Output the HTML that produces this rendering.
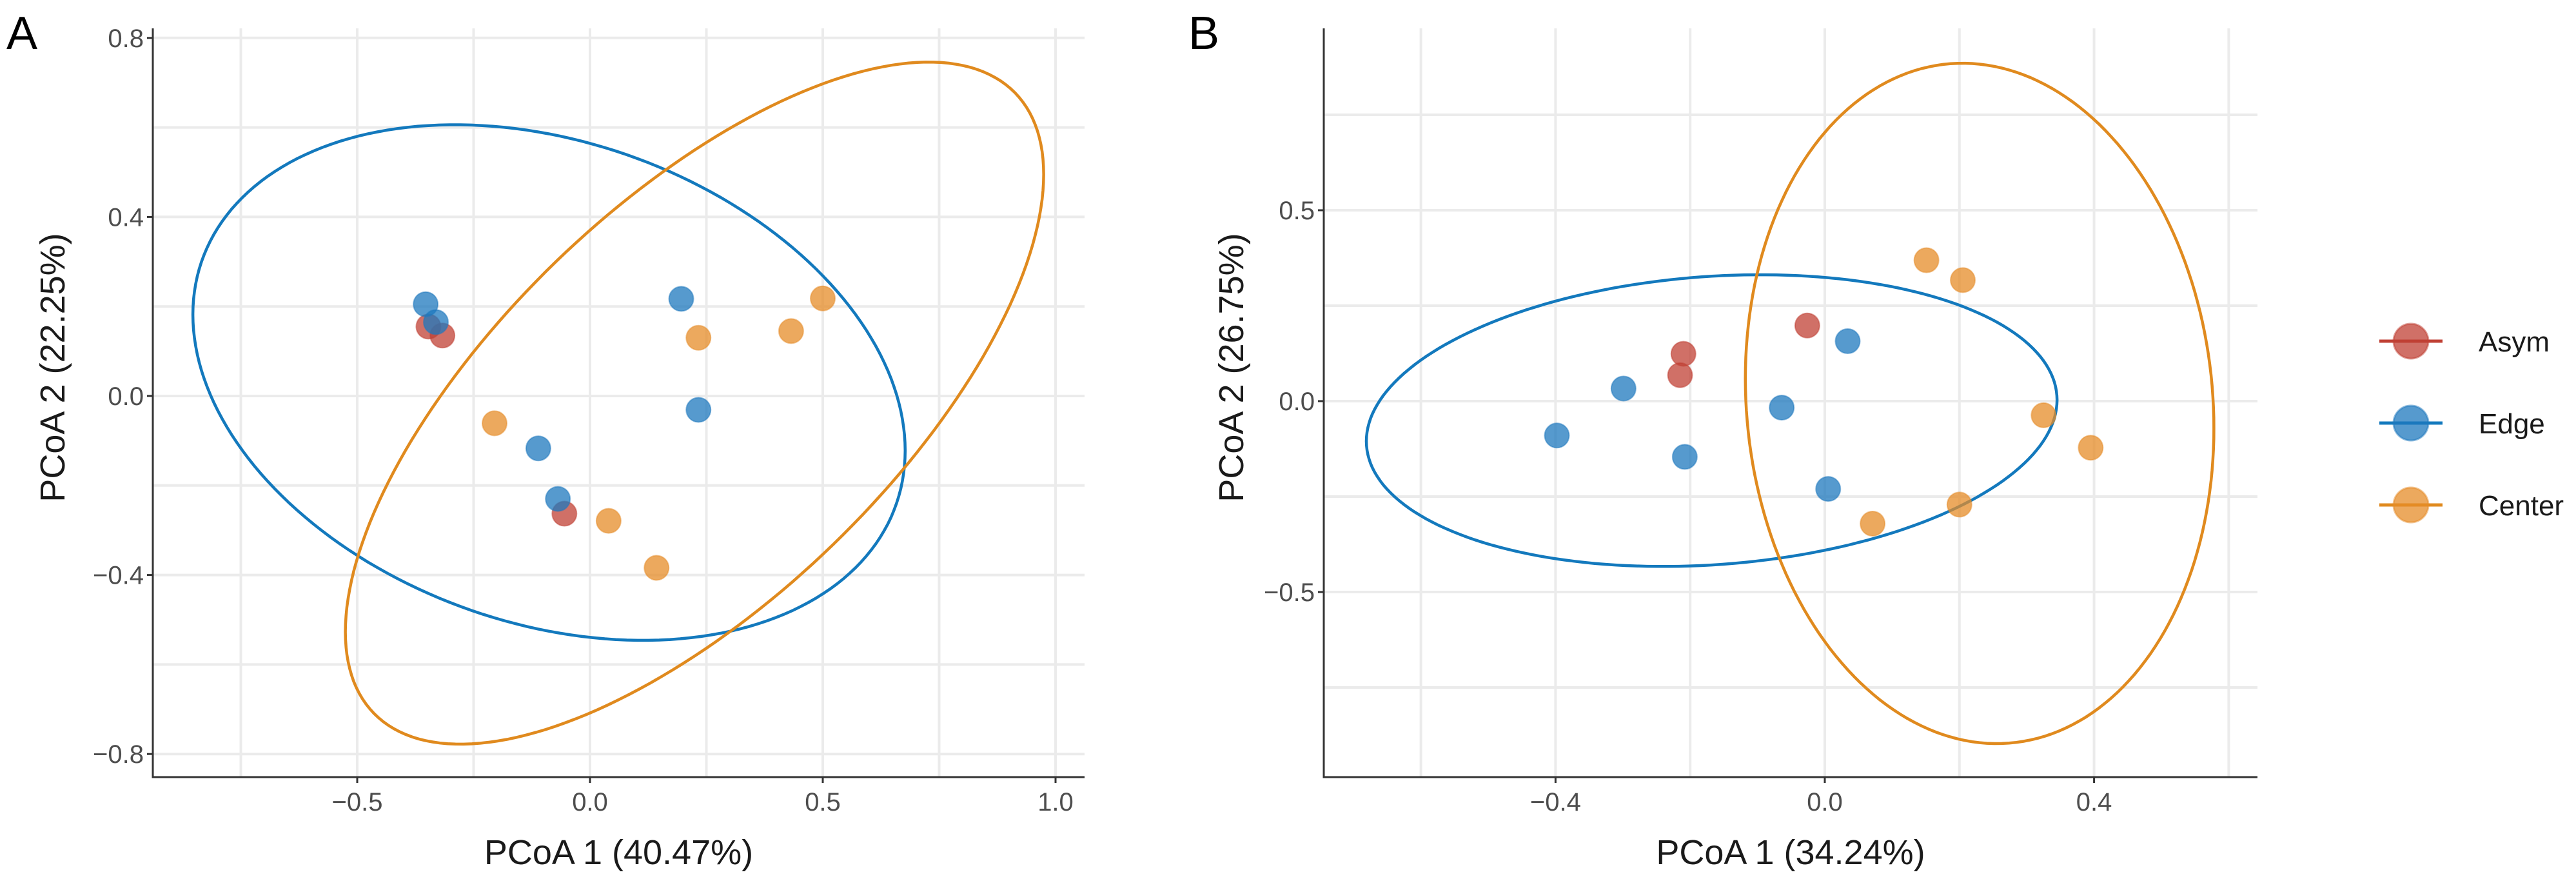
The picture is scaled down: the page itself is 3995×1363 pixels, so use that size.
<!DOCTYPE html>
<html><head><meta charset="utf-8">
<style>
html,body{margin:0;padding:0;background:#fff;}
svg{display:block;font-family:"Liberation Sans",Arial,sans-serif;}
</style></head>
<body>
<svg id="fig" width="3995" height="1363" viewBox="0 0 3995 1363" xmlns="http://www.w3.org/2000/svg">
<g id="panelA"></g>
<g id="panelB"></g>
<g id="legend"></g>
</svg>
<script>
// ---- Panel A data ----
const aAsymX = [-0.347, -0.317, -0.055];
const aAsymY = [0.155, 0.135, -0.263];
const aEdgeX = [-0.353, -0.331, 0.196, 0.233, -0.111, -0.069];
const aEdgeY = [0.205, 0.165, 0.217, -0.031, -0.117, -0.230];
const aCenterX = [-0.205, 0.233, 0.432, 0.500, 0.040, 0.143];
const aCenterY = [-0.061, 0.130, 0.145, 0.218, -0.279, -0.384];
// ellipse params: [cx, cy, halfWidth, halfHeight, y at rightmost point]
const aEdgeEllipse = [-0.088, 0.030, 0.765, 0.576, -0.122];
const aCenterEllipse = [0.2245, -0.016, 0.750, 0.762, 0.495];
const aXTicks = [-0.5, 0.0, 0.5, 1.0];
const aXTickLabels = ["-0.5", "0.0", "0.5", "1.0"];
const aXMinor = [-0.75, -0.25, 0.25, 0.75];
const aYTicks = [0.8, 0.4, 0.0, -0.4, -0.8];
const aYTickLabels = ["0.8", "0.4", "0.0", "-0.4", "-0.8"];
const aYMinor = [0.6, 0.2, -0.2, -0.6];

// ---- Panel B data ----
const bAsymX = [-0.026, -0.210, -0.215];
const bAsymY = [0.198, 0.124, 0.068];
const bEdgeX = [0.034, -0.299, -0.398, -0.208, -0.064, 0.005];
const bEdgeY = [0.157, 0.033, -0.090, -0.146, -0.017, -0.230];
const bCenterX = [0.151, 0.205, 0.325, 0.395, 0.200, 0.071];
const bCenterY = [0.369, 0.317, -0.037, -0.122, -0.271, -0.321];
const bEdgeEllipse = [-0.168, -0.051, 0.513, 0.382, 0.003];
const bCenterEllipse = [0.230, -0.006, 0.348, 0.891, -0.071];
const bXTicks = [-0.4, 0.0, 0.4];
const bXTickLabels = ["-0.4", "0.0", "0.4"];
const bXMinor = [-0.6, -0.2, 0.2, 0.6];
const bYTicks = [0.5, 0.0, -0.5];
const bYTickLabels = ["0.5", "0.0", "-0.5"];
const bYMinor = [0.75, 0.25, -0.25, -0.75];

const legendLabels = ["Asym", "Edge", "Center"];

const COL = {Asym:"rgb(192,64,52)", Edge:"rgb(30,120,190)", Center:"rgb(230,140,40)"};
const ELL = {Edge:"#1379bd", Center:"#e08a1e"};
const NS = "http://www.w3.org/2000/svg";
function mk(tag, attrs, parent){const e=document.createElementNS(NS,tag);for(const k in attrs)e.setAttribute(k,attrs[k]);parent.appendChild(e);return e;}

function drawPanel(g, cfg){
  const sx = v => cfg.x0 + v*cfg.ux;
  const sy = v => cfg.y0 - v*cfg.uy;
  // grid
  cfg.xMinor.concat(cfg.xTicks).forEach(v=>{
    const l=mk('line',{x1:sx(v),x2:sx(v),y1:cfg.top,y2:cfg.bottom,stroke:'#ebebeb','stroke-width':4},g);
    
    
  });
  cfg.yMinor.concat(cfg.yTicks).forEach(v=>{
    const l=mk('line',{x1:cfg.left,x2:cfg.right,y1:sy(v),y2:sy(v),stroke:'#ebebeb','stroke-width':4},g);
    
    
  });
  // ellipses
  [['Edge',cfg.edgeEll],['Center',cfg.centerEll]].forEach(([k,p])=>{
    const [cx,cy,A,B,yr]=p;
    const phi=Math.acos(Math.max(-1,Math.min(1,(yr-cy)/B)));
    let d='';
    for(let i=0;i<=200;i++){const t=i/200*2*Math.PI;
      const x=cx+A*Math.cos(t), y=cy+B*Math.cos(t+phi);
      d+=(i?'L':'M')+sx(x).toFixed(1)+' '+sy(y).toFixed(1);}
    const e=mk('path',{d:d+'Z',fill:'none',stroke:ELL[k],'stroke-width':4.5},g);
    
    
  });
  // points
  [['Asym',cfg.asymX,cfg.asymY],['Edge',cfg.edgeX,cfg.edgeY],['Center',cfg.centerX,cfg.centerY]].forEach(([k,xs,ys])=>{
    xs.forEach((x,i)=>{
      const c=mk('circle',{cx:sx(x),cy:sy(ys[i]),r:19,fill:COL[k],'fill-opacity':0.75,stroke:COL[k],'stroke-opacity':0.5,'stroke-width':2},g);
      
      
    });
  });
  // axes
  const ax=mk('line',{x1:cfg.left,x2:cfg.left,y1:cfg.top,y2:cfg.bottom+1.5,stroke:'#333','stroke-width':3},g);
  
  
  const ay=mk('line',{x1:cfg.left-1.5,x2:cfg.right,y1:cfg.bottom,y2:cfg.bottom,stroke:'#333','stroke-width':3},g);
  
  
  cfg.xTicks.forEach((v,i)=>{
    mk('line',{x1:sx(v),x2:sx(v),y1:cfg.bottom,y2:cfg.bottom+9,stroke:'#333','stroke-width':3},g);
    const t=mk('text',{x:sx(v),y:cfg.bottom+52,'text-anchor':'middle','font-size':40,fill:'#4d4d4d'},g);
    t.textContent=cfg.xLabels[i].replace('-','\u2212');
    
    
  });
  cfg.yTicks.forEach((v,i)=>{
    mk('line',{x1:cfg.left-9,x2:cfg.left,y1:sy(v),y2:sy(v),stroke:'#333','stroke-width':3},g);
    const t=mk('text',{x:cfg.left-14,y:sy(v)+14,'text-anchor':'end','font-size':40,fill:'#4d4d4d'},g);
    t.textContent=cfg.yLabels[i].replace('-','\u2212');
    
    
  });
  const xt=mk('text',{x:(cfg.left+cfg.right)/2,y:1340,'text-anchor':'middle','font-size':54,fill:'#1a1a1a'},g);
  xt.textContent=cfg.xTitle;
  
  
  const yt=mk('text',{x:0,y:0,'text-anchor':'middle','font-size':54,fill:'#1a1a1a',transform:`translate(${cfg.yTitleX},570) rotate(-90)`},g);
  yt.textContent=cfg.yTitle;
  
  
  const tg=mk('text',{x:cfg.tagX,y:76,'font-size':72,fill:'#000'},g);
  tg.textContent=cfg.tag;
  
  
}

drawPanel(document.getElementById('panelA'),{
  x0:915,ux:722,y0:614,uy:694,left:237,right:1682,top:44,bottom:1205,
  xTicks:aXTicks,xLabels:aXTickLabels,xMinor:aXMinor,yTicks:aYTicks,yLabels:aYTickLabels,yMinor:aYMinor,
  asymX:aAsymX,asymY:aAsymY,edgeX:aEdgeX,edgeY:aEdgeY,centerX:aCenterX,centerY:aCenterY,
  edgeEll:aEdgeEllipse,centerEll:aCenterEllipse,
  xTitle:'PCoA 1 (40.47%)',yTitle:'PCoA 2 (22.25%)',yTitleX:100,tag:'A',tagX:10
});
drawPanel(document.getElementById('panelB'),{
  x0:2830,ux:1044,y0:622,uy:592,left:2053,right:3501,top:44,bottom:1205,
  xTicks:bXTicks,xLabels:bXTickLabels,xMinor:bXMinor,yTicks:bYTicks,yLabels:bYTickLabels,yMinor:bYMinor,
  asymX:bAsymX,asymY:bAsymY,edgeX:bEdgeX,edgeY:bEdgeY,centerX:bCenterX,centerY:bCenterY,
  edgeEll:bEdgeEllipse,centerEll:bCenterEllipse,
  xTitle:'PCoA 1 (34.24%)',yTitle:'PCoA 2 (26.75%)',yTitleX:1928,tag:'B',tagX:1843
});

// legend
const lg=document.getElementById('legend');
legendLabels.forEach((lab,i)=>{
  const y=529+i*127;
  const ln=mk('line',{x1:3690,x2:3788,y1:y,y2:y,stroke:ELL[lab]||COL[lab],'stroke-width':5},lg);
  
  
  const c=mk('circle',{cx:3739,cy:y,r:27,fill:COL[lab],'fill-opacity':0.75,stroke:COL[lab],'stroke-opacity':0.5,'stroke-width':3},lg);
  
  
  const t=mk('text',{x:3844,y:y+16,'font-size':44,fill:'#1a1a1a'},lg);
  t.textContent=lab;
  
  
});
</script>
</body></html>
